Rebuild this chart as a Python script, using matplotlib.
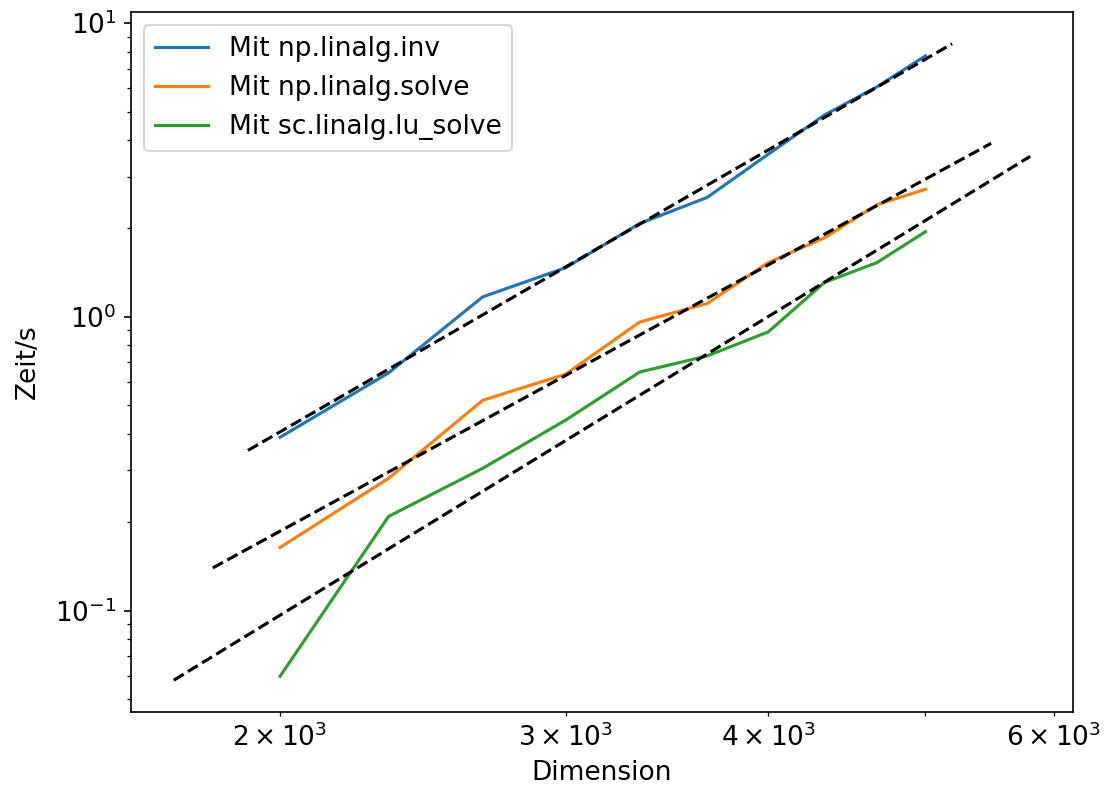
import numpy as np
import matplotlib
matplotlib.use("Agg")
import matplotlib.pyplot as plt

# Matrix dimensions used in the benchmark
dims = [2000, 2333, 2667, 3000, 3333, 3667, 4000, 4333, 4667, 5000]

# Measured run times in seconds
t_inv = [0.389, 0.644, 1.17, 1.47, 2.08, 2.55, 3.58, 4.87, 6.07, 7.74]
t_solve = [0.164, 0.282, 0.520, 0.638, 0.961, 1.11, 1.53, 1.86, 2.41, 2.72]
t_lu = [0.0597, 0.209, 0.305, 0.445, 0.649, 0.736, 0.889, 1.31, 1.53, 1.95]

# Power-law fit lines (start / end of each dashed line)
fit_inv_x = [1911, 5193]
fit_inv_y = [0.351, 8.51]
fit_solve_x = [1818, 5489]
fit_solve_y = [0.1397, 3.90]
fit_lu_x = [1720, 5802]
fit_lu_y = [0.0579, 3.52]

plt.rcParams['font.size'] = 12.7

fig = plt.figure(figsize=(1107 / 150, 804 / 150), dpi=150)
ax = fig.add_axes([0.1183, 0.1144, 0.8510, 0.8707])

ax.loglog(dims, t_inv, label='Mit np.linalg.inv')
ax.loglog(dims, t_solve, label='Mit np.linalg.solve')
ax.loglog(dims, t_lu, label='Mit sc.linalg.lu_solve')

# fitted lines
for fx, fy in [(fit_inv_x, fit_inv_y), (fit_solve_x, fit_solve_y), (fit_lu_x, fit_lu_y)]:
    ax.loglog(fx, fy, 'k--')

ax.set_xlabel('Dimension')
ax.set_ylabel('Zeit/s', labelpad=7)
ax.legend(loc='upper left')

fig.savefig('out.png', dpi=150)
